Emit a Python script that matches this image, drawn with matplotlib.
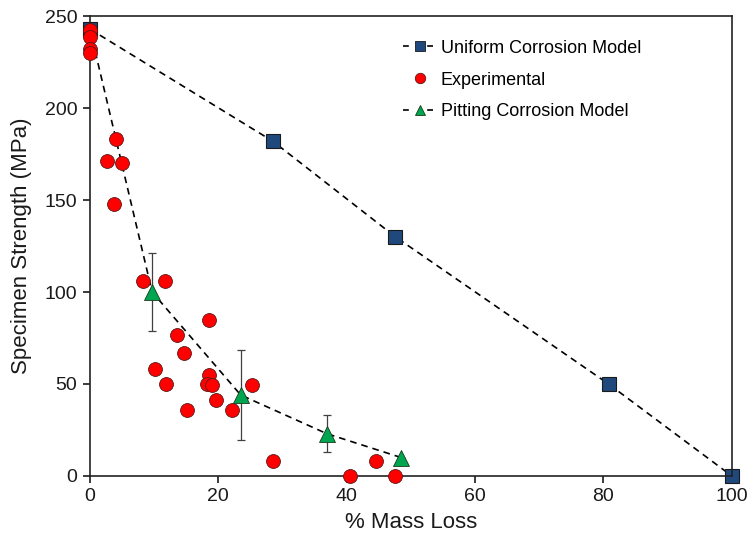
import matplotlib.pyplot as plt
from matplotlib.lines import Line2D

plt.rcParams['font.family'] = ['Liberation Sans', 'DejaVu Sans']

# Uniform corrosion model
uni_x = [0, 28.5, 47.6, 80.8, 100]
uni_y = [243, 182, 130, 50, 0]

# Pitting corrosion model (with error bars)
pit_x = [0, 9.7, 23.5, 36.9, 48.5]
pit_y = [243, 100, 44, 23, 10]
pit_err = [0, 21, 24.5, 10, 0]

# Experimental data
exp_x = [0, 0, 0, 0, 4.0, 2.6, 5.0, 3.8, 8.3, 11.7, 18.5, 13.5, 14.7, 10.1,
         18.6, 11.8, 18.2, 19.0, 25.2, 19.6, 15.2, 22.1, 28.6, 40.6, 44.5, 47.6]
exp_y = [242.5, 238.5, 232, 230, 183, 171, 170, 148, 106, 106, 85, 76.5, 67, 58,
         55, 50, 50, 49.5, 49.5, 41.5, 36, 36, 8, 0, 8, 0]

fig = plt.figure(figsize=(7.49, 5.39), dpi=100)
ax = fig.add_axes([0.120, 0.117, 0.857, 0.853])

ax.plot(uni_x, uni_y, linestyle=(0, (4, 3)), color="black", lw=1.2,
        marker="s", markersize=10, markerfacecolor="#1F497D",
        markeredgecolor="#1a1a1a", markeredgewidth=0.8, zorder=2, clip_on=False)
ax.plot(exp_x, exp_y, linestyle="none", marker="o", markersize=10,
        markerfacecolor="#FF0000", markeredgecolor="#5a1a1a",
        markeredgewidth=0.6, zorder=3, clip_on=False)
ax.errorbar(pit_x[1:], pit_y[1:], yerr=pit_err[1:], fmt="none",
            ecolor="#404040", elinewidth=0.9, capsize=3, capthick=0.9, zorder=3)
ax.plot(pit_x, pit_y, linestyle=(0, (4, 3)), color="black", lw=1.2, zorder=2)
ax.plot(pit_x[1:], pit_y[1:], linestyle="none", marker="^", markersize=11,
        markerfacecolor="#00A550", markeredgecolor="#1a3a1a",
        markeredgewidth=0.6, zorder=4, clip_on=False)

ax.set_xlim(0, 100)
ax.set_ylim(0, 250)
ax.set_xticks([0, 20, 40, 60, 80, 100])
ax.set_yticks([0, 50, 100, 150, 200, 250])
ax.tick_params(direction="out", labelsize=14, length=5, width=1.2,
               colors="#1a1a1a", pad=4)
for s in ax.spines.values():
    s.set_linewidth(1.2)
    s.set_color("#222222")
ax.set_xlabel("% Mass Loss", fontsize=16, color="#1a1a1a", labelpad=5)
ax.set_ylabel("Specimen Strength (MPa)", fontsize=16, color="#1a1a1a", labelpad=9)

legend_dash = (0, (3.5, 11))
handles = [
    Line2D([], [], linestyle=legend_dash, color="black", lw=1.2, marker="s",
           markersize=7, markerfacecolor="#1F497D", markeredgecolor="#1a1a1a",
           markeredgewidth=0.6),
    Line2D([], [], linestyle="none", marker="o", markersize=7.5,
           markerfacecolor="#FF0000", markeredgecolor="#5a1a1a", markeredgewidth=0.6),
    Line2D([], [], linestyle=legend_dash, color="black", lw=1.2, marker="^",
           markersize=7.5, markerfacecolor="#00A550", markeredgecolor="#1a3a1a",
           markeredgewidth=0.6),
]
labels = ["Uniform Corrosion Model", "Experimental", "Pitting Corrosion Model"]
ax.legend(handles, labels, loc="upper left", bbox_to_anchor=(0.462, 0.984),
          frameon=False, fontsize=13, handlelength=1.9, handletextpad=0.2,
          labelspacing=0.82)

fig.savefig("out.png", dpi=100)
